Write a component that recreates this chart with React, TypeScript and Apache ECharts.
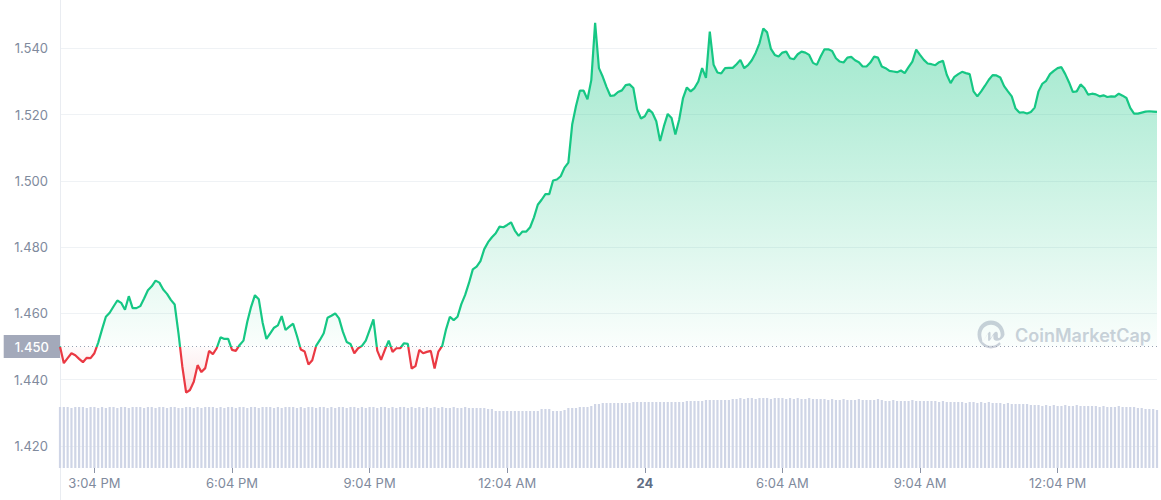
import React, { useEffect, useRef } from "react";
import * as echarts from "echarts";

// 5-minute price samples (USD), 24h window
const price: number[] = [
  1.4500, 1.4450, 1.4465, 1.4480, 1.4474, 1.4463, 1.4453, 1.4466, 1.4465, 1.4480, 1.4512, 1.4552,
  1.4590, 1.4602, 1.4621, 1.4639, 1.4632, 1.4611, 1.4652, 1.4616, 1.4616, 1.4622, 1.4645, 1.4670,
  1.4682, 1.4699, 1.4693, 1.4672, 1.4659, 1.4641, 1.4627, 1.4540, 1.4440, 1.4361, 1.4369, 1.4394,
  1.4444, 1.4423, 1.4435, 1.4487, 1.4477, 1.4495, 1.4528, 1.4523, 1.4523, 1.4490, 1.4487, 1.4505,
  1.4518, 1.4575, 1.4620, 1.4655, 1.4643, 1.4573, 1.4523, 1.4540, 1.4557, 1.4564, 1.4592, 1.4550,
  1.4560, 1.4569, 1.4532, 1.4491, 1.4485, 1.4446, 1.4459, 1.4502, 1.4520, 1.4540, 1.4587, 1.4593,
  1.4600, 1.4585, 1.4545, 1.4514, 1.4508, 1.4480, 1.4495, 1.4502, 1.4518, 1.4550, 1.4582, 1.4488,
  1.4460, 1.4490, 1.4518, 1.4484, 1.4495, 1.4495, 1.4510, 1.4508, 1.4434, 1.4441, 1.4490, 1.4480,
  1.4484, 1.4487, 1.4434, 1.4485, 1.4502, 1.4552, 1.4590, 1.4580, 1.4590, 1.4628, 1.4656, 1.4692,
  1.4733, 1.4741, 1.4758, 1.4794, 1.4815, 1.4830, 1.4842, 1.4862, 1.4860, 1.4867, 1.4875, 1.4850,
  1.4834, 1.4847, 1.4847, 1.4860, 1.4890, 1.4928, 1.4943, 1.4960, 1.4960, 1.5001, 1.5004, 1.5014,
  1.5040, 1.5055, 1.5170, 1.5226, 1.5272, 1.5272, 1.5246, 1.5304, 1.5477, 1.5340, 1.5314, 1.5283,
  1.5256, 1.5258, 1.5268, 1.5273, 1.5289, 1.5291, 1.5280, 1.5215, 1.5188, 1.5195, 1.5216, 1.5205,
  1.5180, 1.5120, 1.5165, 1.5202, 1.5190, 1.5140, 1.5185, 1.5250, 1.5282, 1.5270, 1.5280, 1.5300,
  1.5340, 1.5311, 1.5450, 1.5350, 1.5327, 1.5324, 1.5340, 1.5341, 1.5341, 1.5352, 1.5365, 1.5340,
  1.5349, 1.5364, 1.5386, 1.5415, 1.5460, 1.5448, 1.5398, 1.5380, 1.5375, 1.5387, 1.5390, 1.5370,
  1.5367, 1.5382, 1.5390, 1.5387, 1.5380, 1.5356, 1.5350, 1.5375, 1.5397, 1.5397, 1.5392, 1.5370,
  1.5360, 1.5357, 1.5372, 1.5374, 1.5364, 1.5358, 1.5345, 1.5345, 1.5357, 1.5375, 1.5372, 1.5345,
  1.5340, 1.5332, 1.5330, 1.5328, 1.5333, 1.5325, 1.5343, 1.5360, 1.5396, 1.5380, 1.5365, 1.5354,
  1.5352, 1.5349, 1.5358, 1.5362, 1.5320, 1.5295, 1.5314, 1.5322, 1.5329, 1.5325, 1.5322, 1.5270,
  1.5255, 1.5270, 1.5287, 1.5305, 1.5319, 1.5318, 1.5312, 1.5286, 1.5270, 1.5255, 1.5218, 1.5206,
  1.5207, 1.5203, 1.5208, 1.5221, 1.5270, 1.5293, 1.5302, 1.5322, 1.5332, 1.5340, 1.5343, 1.5322,
  1.5297, 1.5268, 1.5270, 1.5291, 1.5280, 1.5260, 1.5263, 1.5261, 1.5255, 1.5258, 1.5253, 1.5255,
  1.5254, 1.5263, 1.5257, 1.5250, 1.5220, 1.5203, 1.5203, 1.5206, 1.5209, 1.5210, 1.5209, 1.5208,
];

// 5-minute volume (millions, relative)
const volume: number[] = [
  6.1, 6.1, 6.1, 6.0, 6.1, 6.1, 6.1, 6.0, 6.1, 6.1, 6.0, 6.1,
  6.0, 6.1, 6.1, 6.0, 6.1, 6.1, 6.0, 6.1, 6.1, 6.1, 6.0, 6.1,
  6.1, 6.0, 6.1, 6.1, 6.0, 6.1, 6.1, 6.0, 6.0, 6.1, 6.1, 6.0,
  6.1, 6.0, 6.1, 6.1, 6.1, 6.0, 6.1, 6.0, 6.1, 6.1, 6.0, 6.1,
  6.1, 6.0, 6.1, 6.1, 6.0, 6.1, 6.1, 6.1, 6.0, 6.1, 6.0, 6.1,
  6.1, 6.1, 6.0, 6.1, 6.0, 6.1, 6.1, 6.0, 6.1, 6.1, 6.0, 6.1,
  6.0, 6.1, 6.1, 6.0, 6.1, 6.1, 6.0, 6.1, 6.0, 6.1, 6.1, 6.0,
  6.1, 6.1, 6.0, 6.1, 6.0, 6.1, 6.1, 6.0, 6.1, 6.0, 6.1, 6.0,
  6.1, 6.0, 6.1, 6.0, 6.1, 6.0, 6.0, 6.1, 6.0, 6.0, 6.1, 6.0,
  6.0, 6.0, 6.0, 6.0, 5.9, 5.9, 5.7, 5.7, 5.7, 5.7, 5.7, 5.7,
  5.7, 5.7, 5.7, 5.7, 5.7, 5.7, 5.9, 5.9, 5.9, 5.7, 5.7, 5.7,
  5.8, 6.0, 6.0, 6.0, 6.1, 6.1, 6.1, 6.2, 6.4, 6.4, 6.5, 6.5,
  6.5, 6.5, 6.5, 6.5, 6.5, 6.5, 6.6, 6.6, 6.6, 6.6, 6.6, 6.6,
  6.6, 6.6, 6.6, 6.6, 6.6, 6.6, 6.6, 6.6, 6.7, 6.7, 6.7, 6.7,
  6.7, 6.8, 6.8, 6.8, 6.8, 6.8, 6.8, 6.8, 6.9, 6.9, 7.0, 6.9,
  7.0, 7.0, 6.9, 7.0, 7.0, 7.0, 6.9, 7.0, 7.0, 7.0, 6.9, 7.0,
  6.9, 7.0, 6.9, 6.9, 7.0, 6.9, 6.9, 6.9, 6.9, 6.8, 6.9, 6.8,
  6.8, 6.9, 6.8, 6.8, 6.8, 6.9, 6.8, 6.8, 6.8, 6.8, 6.9, 6.8,
  6.7, 6.7, 6.8, 6.7, 6.7, 6.7, 6.7, 6.8, 6.7, 6.7, 6.7, 6.7,
  6.7, 6.7, 6.6, 6.7, 6.6, 6.6, 6.6, 6.6, 6.6, 6.5, 6.6, 6.6,
  6.5, 6.6, 6.5, 6.6, 6.5, 6.5, 6.5, 6.4, 6.5, 6.4, 6.4, 6.4,
  6.4, 6.4, 6.3, 6.3, 6.3, 6.2, 6.3, 6.2, 6.3, 6.2, 6.2, 6.3,
  6.2, 6.2, 6.3, 6.2, 6.2, 6.2, 6.2, 6.2, 6.1, 6.2, 6.1, 6.1,
  6.1, 6.2, 6.1, 6.1, 6.1, 6.1, 6.0, 6.0, 5.9, 5.9, 5.9, 5.8,
];

const referencePrice = 1.45;
const startMinute = 14 * 60 + 19; // 2:19 PM
const stepMinutes = 5;

const tickTimes = ["3:04 PM", "6:04 PM", "9:04 PM", "12:04 AM", "3:04 AM", "6:04 AM", "9:04 AM", "12:04 PM"];
const tickLabels = ["3:04 PM", "6:04 PM", "9:04 PM", "12:04 AM", "24", "6:04 AM", "9:04 AM", "12:04 PM"];

const yMin = 1.4;
const yMax = 1.56;
const yInterval = 0.02;

function fmtTime(m: number): string {
  const mm = ((m % 1440) + 1440) % 1440;
  const h24 = Math.floor(mm / 60);
  const min = mm % 60;
  const ampm = h24 < 12 ? "AM" : "PM";
  let h = h24 % 12;
  if (h === 0) h = 12;
  return `${h}:${min < 10 ? "0" + min : min} ${ampm}`;
}

const categories: string[] = price.map((_, i) => fmtTime(startMinute + i * stepMinutes));

export default function App() {
  const ref = useRef<HTMLDivElement>(null);

  useEffect(() => {
    document.body.style.margin = "0";
    if (!ref.current) return;
    const chart = echarts.init(ref.current, undefined, { renderer: "svg" });
    const H = 500;
    const gridTop = -18;
    const gridBottom = -12.3;
    const plotH = H - gridTop - gridBottom;
    const baseYpx = gridTop + ((yMax - referencePrice) / (yMax - yMin)) * plotH;
    const baseY = baseYpx / H;

    echarts.graphic.registerShape(
      "cmcLogo",
      echarts.graphic.extendPath(
        "M22.6 17.2c-.5.3-1.1.4-1.5 0-.2-.2-.3-.5-.3-.9v-2.6c0-1.2-.5-2.1-1.4-2.4-1.5-.4-2.7 1.5-3.1 2.3l-2.8 4.5v-5.5c0-.7-.2-1.1-.7-1.3-.3-.1-.7 0-1.1.6l-6.2 10C5.3 18.8 4.3 16.4 4.3 14 4.3 8.6 8.6 4.2 14 4.2s9.7 4.4 9.7 9.8c0 .9-.1 2.5-1.1 3.2zM27.5 14C27.5 6.3 21.4.1 14 .1S.5 6.3.5 14 6.6 27.9 14 27.9c3.4 0 6.7-1.3 9.2-3.6.5-.5.5-1.3 0-1.8-.4-.5-1.2-.5-1.7-.1-2 1.9-4.7 2.9-7.5 2.9-3.3 0-6.3-1.5-8.2-3.9L11.1 12.6v6.7c0 .8.3 1.1.5 1.2.2.1.8.2 1.4-.7l3.1-5c.1-.2.2-.3.3-.4v2.6c0 1.3.5 2.3 1.4 2.7 1.9 1.1 4.1.5 5.8-.5 2.3-1.5 3.8-3.4 3.9-5.2z",
        {}
      ) as any
    );

    const lineColor = new echarts.graphic.LinearGradient(
      0,
      0,
      0,
      H,
      [
        { offset: 0, color: "#16c784" },
        { offset: baseY, color: "#16c784" },
        { offset: baseY, color: "#ea3943" },
        { offset: 1, color: "#ea3943" },
      ],
      true
    );

    const areaColor = new echarts.graphic.LinearGradient(
      0,
      0,
      0,
      H,
      [
        { offset: 0.04, color: "rgba(22,199,132,0.42)" },
        { offset: baseY, color: "rgba(22,199,132,0.02)" },
        { offset: baseY, color: "rgba(234,57,67,0.02)" },
        { offset: 0.8, color: "rgba(234,57,67,0.16)" },
      ],
      true
    );

    const option: any = {
      animation: false,
      textStyle: { fontFamily: "Inter, 'Noto Sans', sans-serif" },
      grid: [
        { left: 60, right: 4, top: gridTop, bottom: gridBottom, containLabel: false, outerBoundsMode: "none" },
        { left: 60, right: 4, top: 398, bottom: 32, containLabel: false, outerBoundsMode: "none" },
      ],
      xAxis: [
        {
          type: "category",
          gridIndex: 0,
          data: categories,
          boundaryGap: false,
          axisLine: { show: false },
          axisTick: { show: false },
          axisLabel: { show: false },
          splitLine: { show: false },
        },
        {
          type: "category",
          gridIndex: 1,
          data: categories,
          boundaryGap: false,
          axisLine: { show: false },
          axisTick: {
            show: true,
            length: 5,
            interval: (_i: number, v: string) => tickTimes.indexOf(v) >= 0,
            lineStyle: { color: "#8a92a5", width: 1 },
          },
          axisLabel: {
            show: true,
            margin: 8,
            color: "#808a9d",
            fontSize: 13,
            interval: (_i: number, v: string) => tickTimes.indexOf(v) >= 0,
            formatter: (v: string) => {
              const k = tickTimes.indexOf(v);
              if (k < 0) return "";
              const t = tickLabels[k];
              return /^\d+$/.test(t) ? `{d|${t}}` : t;
            },
            rich: { d: { fontWeight: "bold", color: "#616e85", fontSize: 13 } },
          },
          splitLine: { show: false },
        },
      ],
      yAxis: [
        {
          type: "value",
          gridIndex: 0,
          min: yMin,
          max: yMax,
          interval: yInterval,
          axisLine: { show: true, lineStyle: { color: "#e9ecf1" } },
          axisTick: { show: false },
          axisLabel: {
            color: "#808a9d",
            fontSize: 13,
            margin: 12,
            showMinLabel: false,
            showMaxLabel: false,
            formatter: (v: number) => v.toFixed(3),
          },
          splitLine: { show: true, lineStyle: { color: "#eff2f5", width: 1 } },
        },
        {
          type: "value",
          gridIndex: 1,
          min: 0,
          max: 7,
          show: false,
          splitLine: { show: false },
        },
      ],
      graphic: [
        {
          type: "cmcLogo",
          x: 977,
          y: 320.5,
          scaleX: 1,
          scaleY: 1,
          z: 1,
          style: { fill: "#cdd1db" },
        },
        {
          type: "text",
          x: 1015,
          y: 335,
          z: 1,
          style: {
            text: "CoinMarketCap",
            fontSize: 18,
            fontWeight: 600,
            fontFamily: "Inter, 'Noto Sans', sans-serif",
            fill: "#cdd1db",
            verticalAlign: "middle",
            align: "left",
          },
        },
      ],
      series: [
        {
          type: "line",
          name: "Price",
          xAxisIndex: 0,
          yAxisIndex: 0,
          data: price,
          showSymbol: false,
          symbol: "none",
          smooth: false,
          z: 5,
          lineStyle: { width: 2.2, color: lineColor },
          areaStyle: {
            origin: referencePrice,
            opacity: 1,
            color: areaColor,
          },
          markLine: {
            silent: true,
            symbol: "none",
            data: [{ yAxis: referencePrice }],
            lineStyle: { type: [1, 3], color: "#9aa1b3", width: 1 },
            label: {
              show: true,
              position: "start",
              distance: 0,
              formatter: () => referencePrice.toFixed(3),
              color: "#ffffff",
              backgroundColor: "#a3a9ba",
              padding: [5, 11, 5, 11],
              fontSize: 13,
              fontWeight: 500,
              lineHeight: 13,
            },
            emphasis: { disabled: true },
          },
        },
        {
          type: "bar",
          name: "Volume",
          xAxisIndex: 1,
          yAxisIndex: 1,
          data: volume,
          barWidth: 2.2,
          silent: true,
          itemStyle: { color: "#cfd5e6" },
        },
      ],
    };
    chart.setOption(option);
    return () => chart.dispose();
  }, []);

  return <div ref={ref} style={{ width: 1161, height: 500 }} />;
}
